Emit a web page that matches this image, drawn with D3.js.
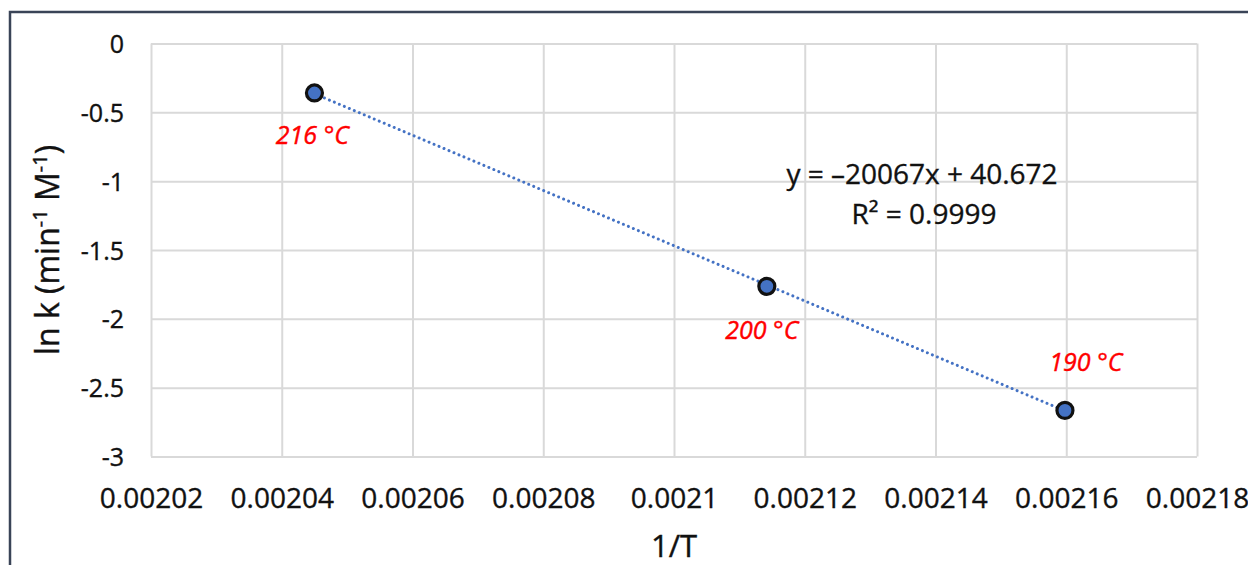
<!DOCTYPE html>
<html>
<head>
<meta charset="utf-8">
<script src="https://cdn.jsdelivr.net/npm/d3@7"></script>
<style>
  html, body { margin: 0; padding: 0; background: #fff; }
  svg { display: block; }
  text { font-family: "Open Sans", "Noto Sans", sans-serif; }
</style>
</head>
<body>
<svg id="chart" width="1248" height="565"></svg>
<script>
// Arrhenius plot: ln k versus 1/T for three reaction temperatures
const tempLabels = ["216 °C", "200 °C", "190 °C"];
const invT = [0.002045, 0.0021142, 0.0021598];
const lnK = [-0.359, -1.764, -2.665];

// Linear fit reported on the chart
const fitSlope = -20067;
const fitIntercept = 40.672;
const fitEquation = "y = –20067x + 40.672";
const fitR2 = "R² = 0.9999";

const xTicks = [0.00202, 0.00204, 0.00206, 0.00208, 0.0021, 0.00212, 0.00214, 0.00216, 0.00218];
const xTickLabels = ["0.00202", "0.00204", "0.00206", "0.00208", "0.0021", "0.00212", "0.00214", "0.00216", "0.00218"];
const yTicks = [0, -0.5, -1, -1.5, -2, -2.5, -3];
const yTickLabels = ["0", "-0.5", "-1", "-1.5", "-2", "-2.5", "-3"];

const svg = d3.select("#chart");
const plot = { left: 151, right: 1197, top: 43.5, bottom: 456.5 };
const ink = "#111";

const x = d3.scaleLinear().domain([0.00202, 0.00218]).range([plot.left, plot.right]);
const y = d3.scaleLinear().domain([-3, 0]).range([plot.bottom, plot.top]);

// outer frame
svg.append("path")
  .attr("d", `M10,575 L10,12 L1260,12`)
  .attr("fill", "none")
  .attr("stroke", "#3a4457")
  .attr("stroke-width", 2.5);

// vertical gridlines + x tick labels
const xAxis = d3.axisBottom(x)
  .tickValues(xTicks)
  .tickFormat((d, i) => xTickLabels[i])
  .tickSize(-(plot.bottom - plot.top))
  .tickPadding(0);
const gx = svg.append("g")
  .attr("transform", `translate(0,${plot.bottom})`)
  .call(xAxis);
gx.select(".domain").remove();
gx.selectAll(".tick line").attr("stroke", "#d9d9d9").attr("stroke-width", 2);
gx.selectAll(".tick text")
  .attr("y", 51)
  .attr("dy", 0)
  .attr("fill", ink)
  .attr("stroke", ink)
  .attr("stroke-width", 0.35)
  .style("font-size", "28px");

// horizontal gridlines + y tick labels
const yAxis = d3.axisLeft(y)
  .tickValues(yTicks)
  .tickFormat((d, i) => yTickLabels[i])
  .tickSize(-(plot.right - plot.left))
  .tickPadding(0);
const gy = svg.append("g")
  .attr("transform", `translate(${plot.left},0)`)
  .call(yAxis);
gy.select(".domain").remove();
gy.selectAll(".tick line").attr("stroke", "#d9d9d9").attr("stroke-width", 2);
gy.selectAll(".tick text")
  .attr("x", -27)
  .attr("dy", "0.36em")
  .attr("fill", ink)
  .attr("stroke", ink)
  .attr("stroke-width", 0.35)
  .style("font-size", "25px");

// axis titles
svg.append("text")
  .attr("x", (plot.left + plot.right) / 2)
  .attr("y", 557)
  .attr("text-anchor", "middle")
  .attr("fill", ink)
  .attr("stroke", ink)
  .attr("stroke-width", 0.4)
  .style("font-size", "31px")
  .text("1/T");

const yTitle = svg.append("text")
  .attr("transform", `translate(59,${(plot.top + plot.bottom) / 2}) rotate(-90)`)
  .attr("text-anchor", "middle")
  .attr("fill", ink)
  .attr("stroke", ink)
  .attr("stroke-width", 0.4)
  .style("font-size", "32px");
yTitle.append("tspan").text("ln k (min");
yTitle.append("tspan").attr("dy", -12).style("font-size", "20px").text("-1");
yTitle.append("tspan").attr("dy", 12).text(" M");
yTitle.append("tspan").attr("dy", -12).style("font-size", "20px").text("-1");
yTitle.append("tspan").attr("dy", 12).text(")");

// trendline from the fitted equation across the data range
const xExt = d3.extent(invT);
svg.append("line")
  .attr("x1", x(xExt[0])).attr("y1", y(fitSlope * xExt[0] + fitIntercept))
  .attr("x2", x(xExt[1])).attr("y2", y(fitSlope * xExt[1] + fitIntercept))
  .attr("stroke", "#4472c4")
  .attr("stroke-width", 3)
  .attr("stroke-linecap", "round")
  .attr("stroke-dasharray", "0.01 5.4");

// data points
svg.append("g").selectAll("circle")
  .data(invT)
  .join("circle")
  .attr("cx", d => x(d))
  .attr("cy", (d, i) => y(lnK[i]))
  .attr("r", 8)
  .attr("fill", "#4472c4")
  .attr("stroke", ink)
  .attr("stroke-width", 3.2);

// temperature labels
const labelOffsets = [
  { dx: -2, dy: 51 },
  { dx: -5, dy: 53 },
  { dx: 21, dy: -39 }
];
svg.append("g").selectAll("text")
  .data(tempLabels)
  .join("text")
  .attr("x", (d, i) => x(invT[i]) + labelOffsets[i].dx)
  .attr("y", (d, i) => y(lnK[i]) + labelOffsets[i].dy)
  .attr("text-anchor", "middle")
  .attr("fill", "#ff0000")
  .attr("stroke", "#ff0000")
  .attr("stroke-width", 0.4)
  .style("font-size", "25px")
  .style("font-style", "italic")
  .text(d => d);

// fit equation
svg.append("text")
  .attr("x", 922).attr("y", 184)
  .attr("text-anchor", "middle")
  .attr("fill", ink)
  .attr("stroke", ink)
  .attr("stroke-width", 0.35)
  .style("font-size", "28px")
  .text(fitEquation);
svg.append("text")
  .attr("x", 924).attr("y", 224)
  .attr("text-anchor", "middle")
  .attr("fill", ink)
  .attr("stroke", ink)
  .attr("stroke-width", 0.35)
  .style("font-size", "28px")
  .text(fitR2);
</script>
</body>
</html>
